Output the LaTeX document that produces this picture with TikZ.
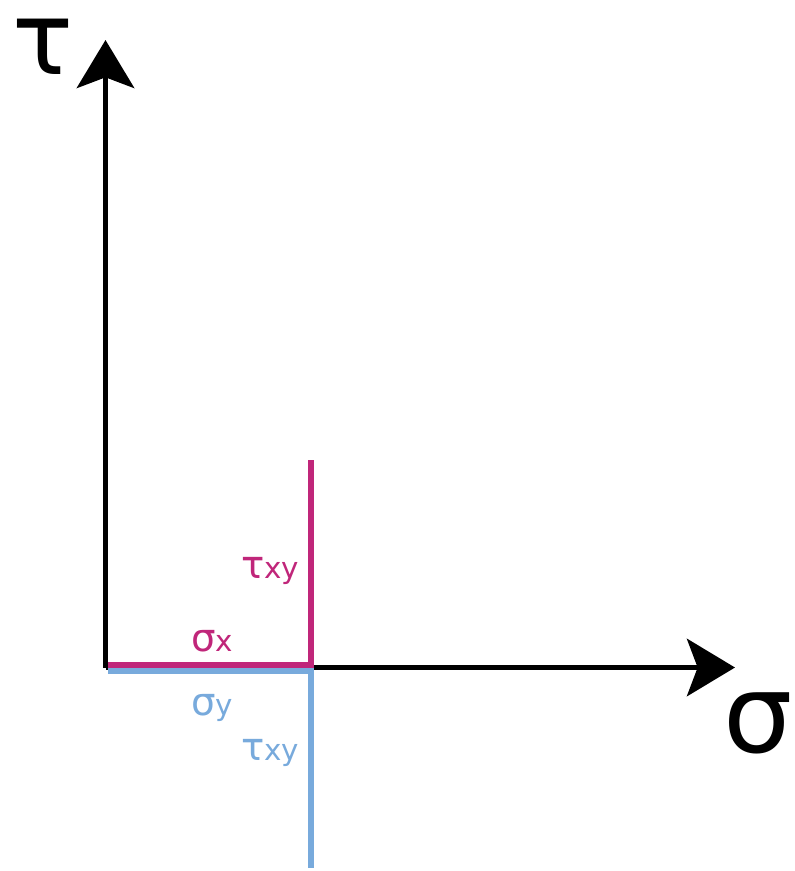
\documentclass[tikz,border=0pt]{standalone}
\usepackage{fontspec}
\setmainfont{DejaVu Sans}
\usetikzlibrary{arrows.meta, positioning}

\definecolor{stressmag}{RGB}{192,38,122}
\definecolor{stressblue}{RGB}{120,170,220}

\begin{document}
\begin{tikzpicture}[x=0.75pt, y=-0.75pt,
        axis/.style={line width=4.2pt, -{Stealth[length=36pt, width=43pt, inset=8pt]}},
        seg/.style={line width=4.5pt},
        biglabel/.style={inner sep=0pt, anchor=base west, text height=46pt, text depth=0pt, font=\fontsize{82}{82}\selectfont},
        smalllabel/.style={inner sep=0pt, anchor=base west}]
        \useasboundingbox (0,0) rectangle (794,871);

        \coordinate (o) at (105.5,667.5);
        \coordinate (ytip) at (105.5,40);
        \coordinate (xtip) at (735,667.5);

        \draw[axis] (o) -- (ytip);
        \draw[axis] (o) -- (xtip);

        \node[biglabel, font=\fontsize{76}{76}\selectfont, text height=44pt] (tau) at (12,74) {τ};
        \node[biglabel] (sigma) at (723,752) {σ};

        % magenta state
        \coordinate (mx0) at (107.5,665.3);
        \coordinate (mx1) at (314.3,665.3);
        \coordinate (mtop) at (311.3,460);
        \draw[seg, stressmag] (mx0) -- (mx1);
        \draw[seg, stressmag] (311.3,667) -- (mtop);

        % blue state
        \coordinate (bx0) at (107.5,671.3);
        \coordinate (bx1) at (314.3,671.3);
        \coordinate (bbot) at (311.3,868);
        \draw[seg, stressblue] (bx0) -- (bx1);
        \draw[seg, stressblue] (311.3,668.3) -- (bbot);

        \node[smalllabel, text=stressmag] (txym) at (241,578) {\fontsize{29}{29}\selectfont τ\fontsize{22}{22}\selectfont xy};
        \node[smalllabel, text=stressmag] (sx) at (191,651) {\fontsize{29}{29}\selectfont σ\fontsize{22}{22}\selectfont x};
        \node[smalllabel, text=stressblue] (sy) at (191,715) {\fontsize{29}{29}\selectfont σ\fontsize{22}{22}\selectfont y};
        \node[smalllabel, text=stressblue] (txyb) at (241,760) {\fontsize{29}{29}\selectfont τ\fontsize{22}{22}\selectfont xy};
\end{tikzpicture}
\end{document}
